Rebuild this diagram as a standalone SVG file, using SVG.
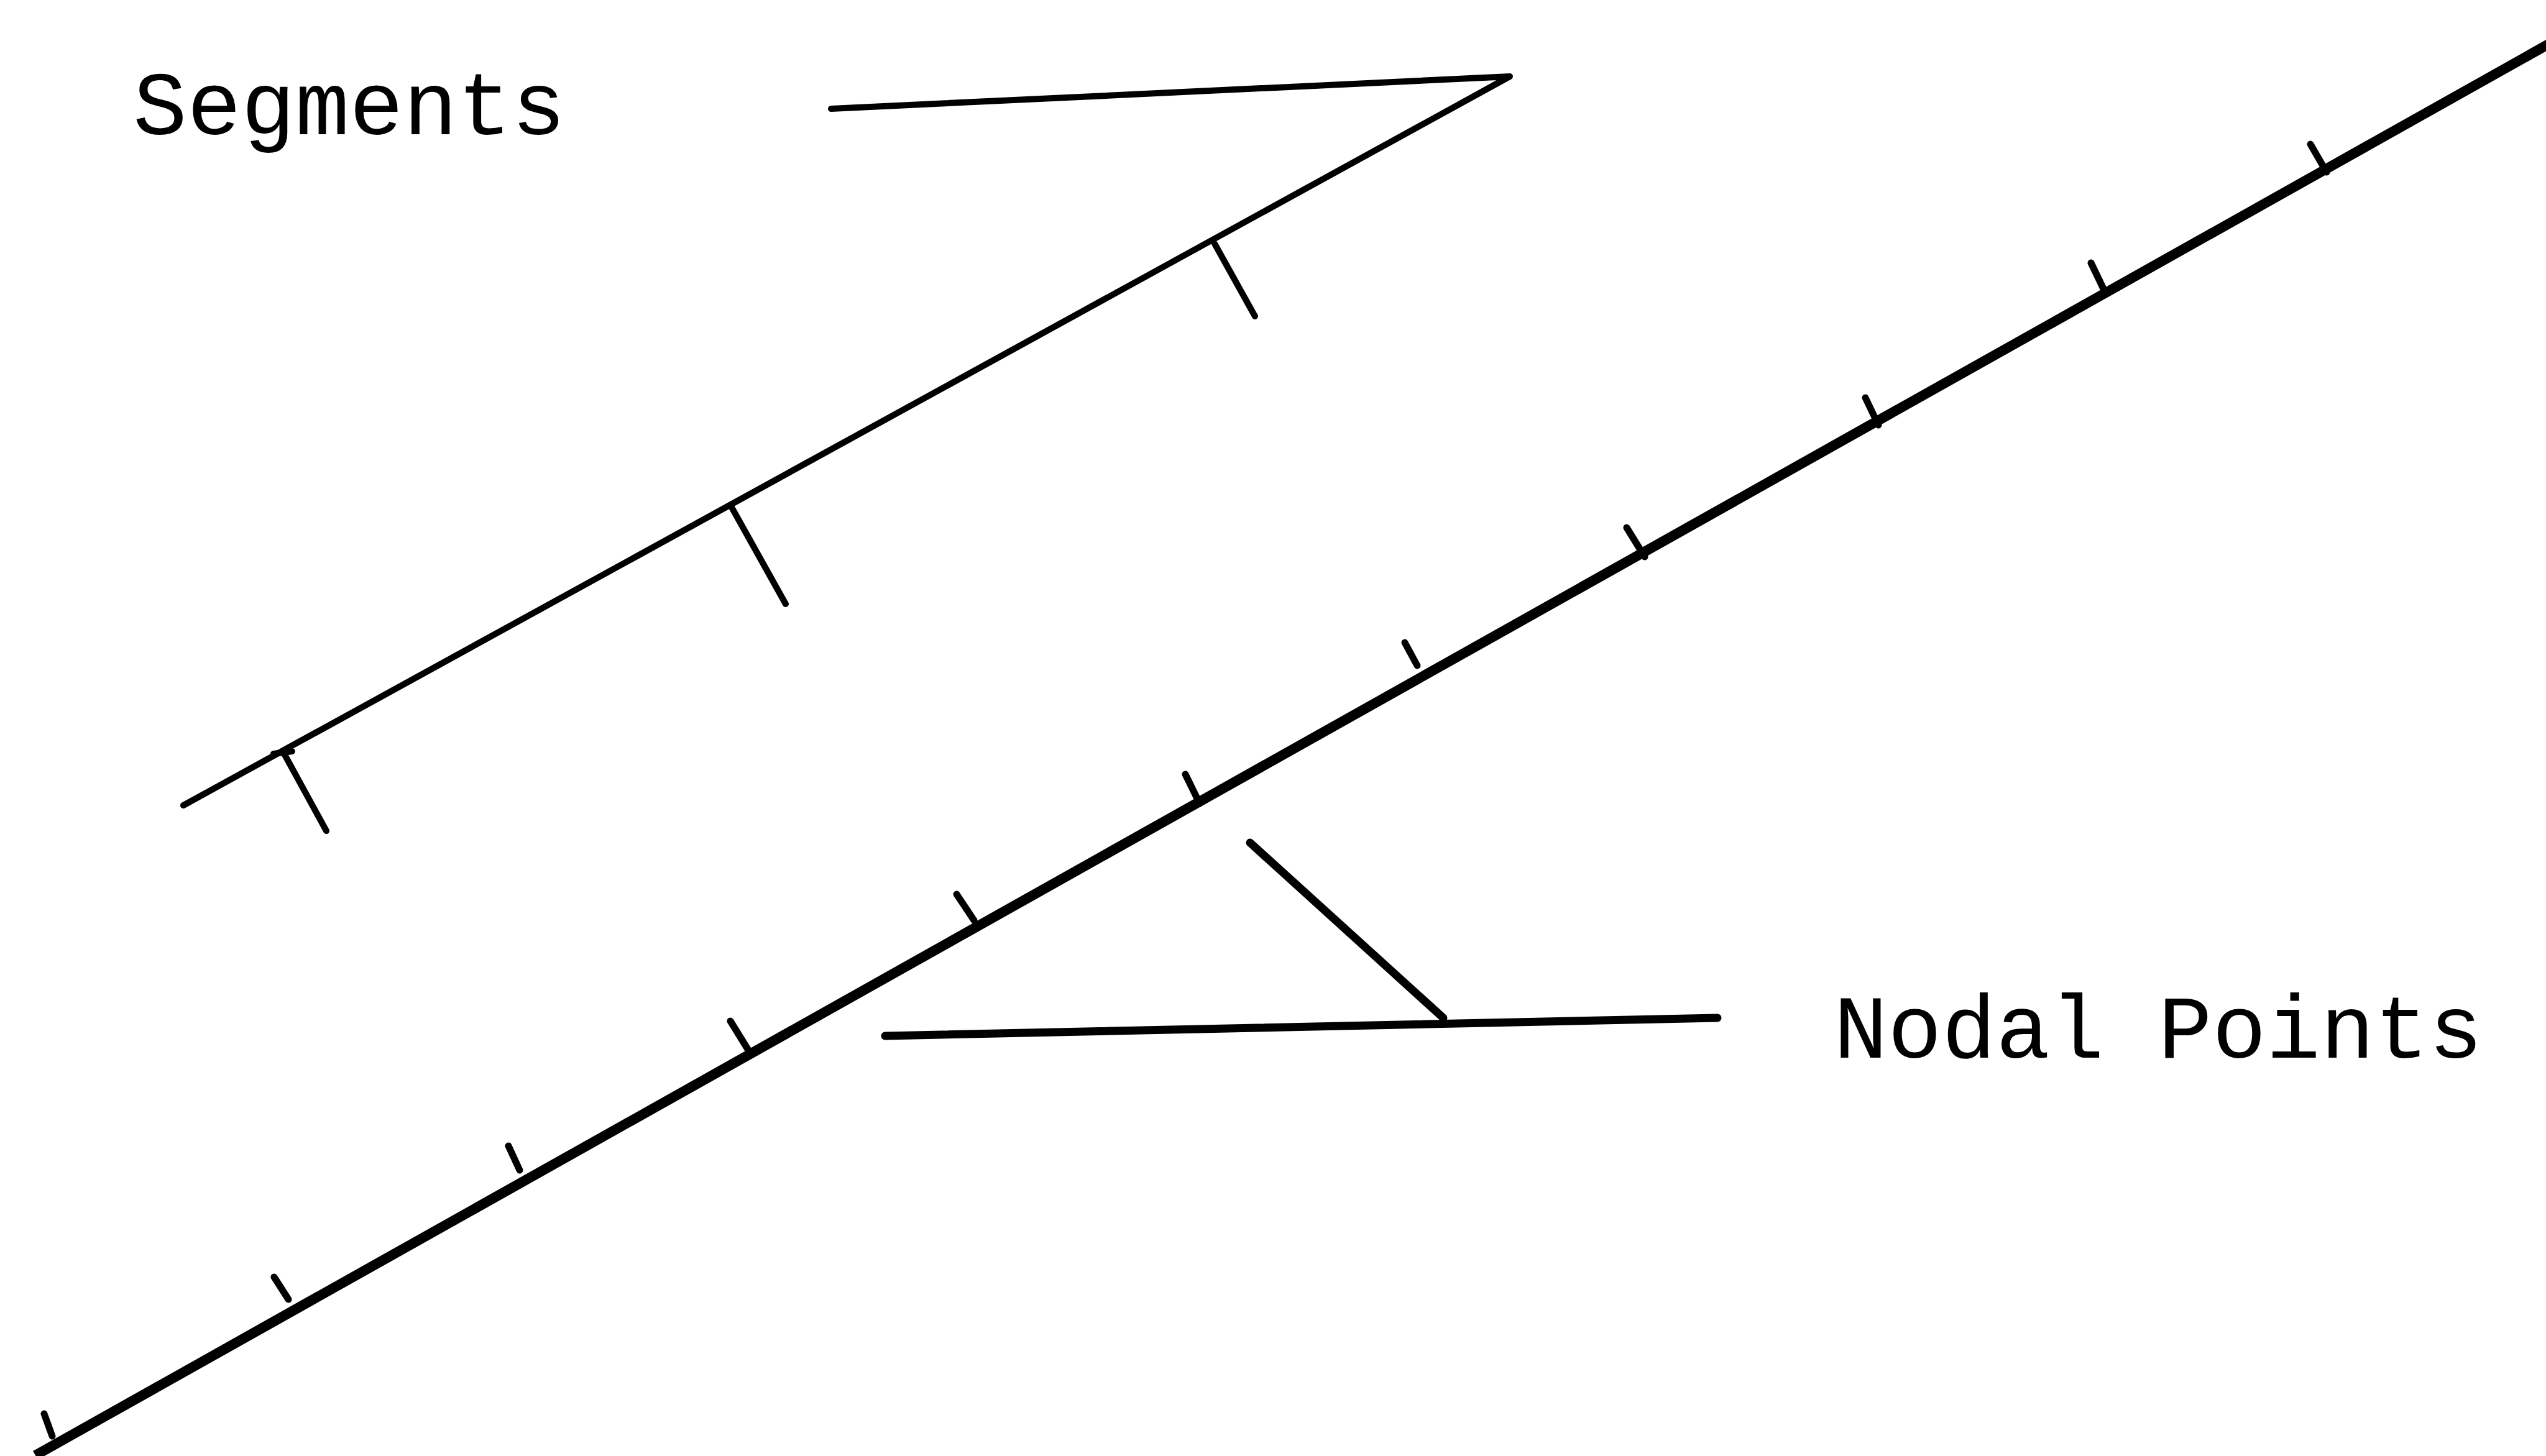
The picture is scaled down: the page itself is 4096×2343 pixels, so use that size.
<svg xmlns="http://www.w3.org/2000/svg" width="4096" height="2343" viewBox="0 0 4096 2343">
<style>
.l{fill:none;stroke:#000;stroke-linecap:round;stroke-linejoin:round}
.t{font-family:"Liberation Mono","Courier New",monospace;font-size:145px;fill:#000}
.m{stroke-width:16}
.k{stroke-width:11}
.s{stroke-width:10}
.n{stroke-width:13}
</style>
<rect width="4096" height="2343" fill="#fff"/>
<g id="connectors">
<path id="main-line" class="l m" d="M57 2342L4100 71" style="stroke-linecap:butt"/>
<g id="nodal-ticks">
<path class="l k" d="M71 2275L84 2311M441 2055L464 2091M818 1844L836 1883M1175 1643L1204 1690M1539 1439L1567 1481M1907 1246L1930 1293M2260 1034L2280 1071M2617 849L2646 896M3001 640L3022 684M3364 423L3388 473M3717 232L3743 277"/>
</g>
<path id="segment-leader" class="l s" d="M1337 175L2429 123L295 1296"/>
<path id="segment-ticks" class="l s" d="M1954 392L2019 509M1178 818L1264 972M455 1209L525 1337M440 1213L470 1209"/>
<path id="nodal-leader" class="l n" d="M1424 1667L2763 1638M2011 1356L2322 1638"/>
</g>
<g id="label-segments"><text class="t" x="214" y="216">Segments</text></g>
<g id="label-nodal-points"><text class="t" x="2950" y="1702">Nodal Points</text></g>
</svg>
